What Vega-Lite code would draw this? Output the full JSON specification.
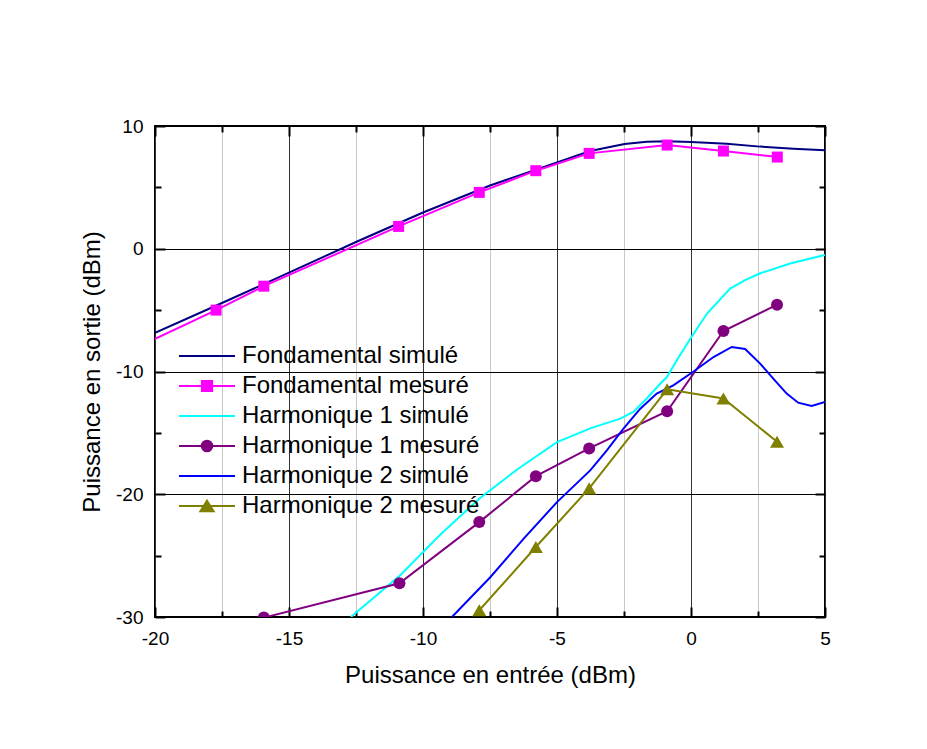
{
  "$schema": "https://vega.github.io/schema/vega-lite/v6.json",
  "autosize": {"type": "none"},
  "padding": {"left": 155, "top": 126, "right": 102, "bottom": 132},
  "width": 670,
  "height": 491,
  "background": "white",
  "config": {
    "font": "Liberation Sans",
    "view": {"stroke": "black", "strokeWidth": 2},
    "axis": {"labelFont": "Liberation Sans", "titleFont": "Liberation Sans", "labelColor": "black", "titleColor": "black", "domain": false, "labelFontSize": 19, "titleFontSize": 24, "titleFontWeight": "normal", "labelFlush": false, "labelOverlap": false}
  },
  "data": {
    "values": [
      {"s": "Fondamental simulé", "x": -20, "y": -6.86},
      {"s": "Fondamental simulé", "x": -17.5, "y": -4.42},
      {"s": "Fondamental simulé", "x": -15, "y": -1.95},
      {"s": "Fondamental simulé", "x": -12.5, "y": 0.55},
      {"s": "Fondamental simulé", "x": -10, "y": 2.95},
      {"s": "Fondamental simulé", "x": -7.5, "y": 5.15},
      {"s": "Fondamental simulé", "x": -5, "y": 7.04},
      {"s": "Fondamental simulé", "x": -3.76, "y": 7.96},
      {"s": "Fondamental simulé", "x": -2.48, "y": 8.53},
      {"s": "Fondamental simulé", "x": -1.65, "y": 8.72},
      {"s": "Fondamental simulé", "x": -0.9, "y": 8.75},
      {"s": "Fondamental simulé", "x": 0, "y": 8.69},
      {"s": "Fondamental simulé", "x": 1.33, "y": 8.56},
      {"s": "Fondamental simulé", "x": 2.58, "y": 8.32},
      {"s": "Fondamental simulé", "x": 3.82, "y": 8.15},
      {"s": "Fondamental simulé", "x": 5, "y": 8.02},

      {"s": "Fondamental mesuré", "x": -21.7, "y": -9.1},
      {"s": "Fondamental mesuré", "x": -17.72, "y": -5.0},
      {"s": "Fondamental mesuré", "x": -15.94, "y": -3.05},
      {"s": "Fondamental mesuré", "x": -10.91, "y": 1.82},
      {"s": "Fondamental mesuré", "x": -7.9, "y": 4.59},
      {"s": "Fondamental mesuré", "x": -5.79, "y": 6.36},
      {"s": "Fondamental mesuré", "x": -3.8, "y": 7.77},
      {"s": "Fondamental mesuré", "x": -0.89, "y": 8.45},
      {"s": "Fondamental mesuré", "x": 1.21, "y": 7.96},
      {"s": "Fondamental mesuré", "x": 3.22, "y": 7.47},

      {"s": "Harmonique 1 simulé", "x": -12.69, "y": -30},
      {"s": "Harmonique 1 simulé", "x": -10.85, "y": -26.6},
      {"s": "Harmonique 1 simulé", "x": -9.36, "y": -23.3},
      {"s": "Harmonique 1 simulé", "x": -7.87, "y": -20.3},
      {"s": "Harmonique 1 simulé", "x": -6.5, "y": -18.0},
      {"s": "Harmonique 1 simulé", "x": -5.0, "y": -15.75},
      {"s": "Harmonique 1 simulé", "x": -3.76, "y": -14.63},
      {"s": "Harmonique 1 simulé", "x": -2.64, "y": -13.84},
      {"s": "Harmonique 1 simulé", "x": -2.15, "y": -13.3},
      {"s": "Harmonique 1 simulé", "x": -1.65, "y": -12.2},
      {"s": "Harmonique 1 simulé", "x": -1.15, "y": -11.0},
      {"s": "Harmonique 1 simulé", "x": -0.9, "y": -10.45},
      {"s": "Harmonique 1 simulé", "x": -0.45, "y": -8.8},
      {"s": "Harmonique 1 simulé", "x": 0, "y": -7.25},
      {"s": "Harmonique 1 simulé", "x": 0.6, "y": -5.28},
      {"s": "Harmonique 1 simulé", "x": 1.46, "y": -3.24},
      {"s": "Harmonique 1 simulé", "x": 2.02, "y": -2.56},
      {"s": "Harmonique 1 simulé", "x": 2.58, "y": -2.0},
      {"s": "Harmonique 1 simulé", "x": 3.7, "y": -1.2},
      {"s": "Harmonique 1 simulé", "x": 5, "y": -0.5},

      {"s": "Harmonique 1 mesuré", "x": -15.94, "y": -30.05},
      {"s": "Harmonique 1 mesuré", "x": -10.88, "y": -27.25},
      {"s": "Harmonique 1 mesuré", "x": -7.9, "y": -22.27},
      {"s": "Harmonique 1 mesuré", "x": -5.79, "y": -18.53},
      {"s": "Harmonique 1 mesuré", "x": -3.8, "y": -16.27},
      {"s": "Harmonique 1 mesuré", "x": -0.89, "y": -13.24},
      {"s": "Harmonique 1 mesuré", "x": 1.21, "y": -6.7},
      {"s": "Harmonique 1 mesuré", "x": 3.21, "y": -4.56},

      {"s": "Harmonique 2 simulé", "x": -8.92, "y": -30},
      {"s": "Harmonique 2 simulé", "x": -7.49, "y": -26.76},
      {"s": "Harmonique 2 simulé", "x": -6.25, "y": -23.63},
      {"s": "Harmonique 2 simulé", "x": -5.0, "y": -20.64},
      {"s": "Harmonique 2 simulé", "x": -3.76, "y": -18.06},
      {"s": "Harmonique 2 simulé", "x": -3.14, "y": -16.43},
      {"s": "Harmonique 2 simulé", "x": -2.52, "y": -14.66},
      {"s": "Harmonique 2 simulé", "x": -1.9, "y": -13.05},
      {"s": "Harmonique 2 simulé", "x": -1.28, "y": -11.8},
      {"s": "Harmonique 2 simulé", "x": -0.66, "y": -11.13},
      {"s": "Harmonique 2 simulé", "x": 0.07, "y": -10.04},
      {"s": "Harmonique 2 simulé", "x": 0.84, "y": -8.82},
      {"s": "Harmonique 2 simulé", "x": 1.52, "y": -8.0},
      {"s": "Harmonique 2 simulé", "x": 2.02, "y": -8.16},
      {"s": "Harmonique 2 simulé", "x": 2.58, "y": -9.36},
      {"s": "Harmonique 2 simulé", "x": 3.07, "y": -10.58},
      {"s": "Harmonique 2 simulé", "x": 3.57, "y": -11.8},
      {"s": "Harmonique 2 simulé", "x": 4.0, "y": -12.54},
      {"s": "Harmonique 2 simulé", "x": 4.5, "y": -12.81},
      {"s": "Harmonique 2 simulé", "x": 5, "y": -12.49},

      {"s": "Harmonique 2 mesuré", "x": -7.9, "y": -29.45},
      {"s": "Harmonique 2 mesuré", "x": -5.79, "y": -24.3},
      {"s": "Harmonique 2 mesuré", "x": -3.8, "y": -19.52},
      {"s": "Harmonique 2 mesuré", "x": -0.89, "y": -11.45},
      {"s": "Harmonique 2 mesuré", "x": 1.21, "y": -12.2},
      {"s": "Harmonique 2 mesuré", "x": 3.21, "y": -15.72}
    ]
  },
  "resolve": {"axis": {"x": "independent", "y": "independent"}},
  "layer": [
    {
      "transform": [{"filter": "datum.s === 'Fondamental simulé'"}],
      "mark": {"type": "line", "strokeWidth": 2, "clip": true},
      "encoding": {
        "x": {"field": "x", "type": "quantitative", "scale": {"domain": [-20, 5], "nice": false, "zero": false},
          "axis": {"orient": "bottom", "values": [-20, -15, -10, -5, 0, 5], "tickSize": -10, "tickWidth": 2, "tickColor": "black", "grid": true, "gridColor": "#333333", "gridWidth": 1, "labelPadding": 22, "labelExpr": "'' + datum.value", "title": "Puissance en entrée (dBm)", "titleX": 335, "titleY": 65, "titleBaseline": "alphabetic", "titleAlign": "center", "titleAngle": 0}},
        "y": {"field": "y", "type": "quantitative", "scale": {"domain": [-30, 10], "nice": false, "zero": false},
          "axis": {"orient": "left", "values": [-30, -20, -10, 0, 10], "tickSize": -10, "tickWidth": 2, "tickColor": "black", "grid": true, "gridColor": "black", "gridWidth": 1, "labelPadding": 22, "labelExpr": "'' + datum.value", "title": "Puissance en sortie (dBm)", "titleX": -56, "titleY": 245.5, "titleBaseline": "alphabetic", "titleAlign": "center", "titleAngle": 270}},
        "color": {"field": "s", "type": "nominal",
          "scale": {"domain": ["Fondamental simulé", "Fondamental mesuré", "Harmonique 1 simulé", "Harmonique 1 mesuré", "Harmonique 2 simulé", "Harmonique 2 mesuré"], "range": ["#000080", "#FF00FF", "#00FFFF", "#800080", "#0000FF", "#808000"]},
          "legend": {"title": null, "orient": "none", "legendX": 40, "legendY": 218, "padding": 0, "labelFont": "Liberation Sans", "labelFontSize": 24, "labelColor": "black", "labelOffset": 23, "labelLimit": 500, "symbolSize": 144, "symbolStrokeWidth": 2, "rowPadding": 6,
            "encode": {"symbols": {"update": {
              "shape": {"signal": "datum.value === 'Fondamental mesuré' ? 'M-4.67,0H4.67M-0.85,-0.85H0.85V0.85H-0.85Z' : datum.value === 'Harmonique 1 mesuré' ? 'M-4.67,0H4.67M-0.88,0A0.88,0.88,0,1,0,0.88,0A0.88,0.88,0,1,0,-0.88,0Z' : datum.value === 'Harmonique 2 mesuré' ? 'M-4.67,0H4.67M0,-0.88L1.1,0.88L-1.1,0.88Z' : 'M-4.67,0H4.67'"},
              "fill": {"signal": "scale('color', datum.value)"},
              "stroke": {"signal": "scale('color', datum.value)"},
              "strokeWidth": {"value": 2},
              "size": {"value": 144},
              "opacity": {"value": 1},
              "fillOpacity": {"value": 1},
              "strokeOpacity": {"value": 1}
            }}}}
        }
      }
    },
    {
      "transform": [{"filter": "datum.s === 'Fondamental mesuré'"}],
      "mark": {"type": "line", "strokeWidth": 2, "clip": true},
      "encoding": {
        "x": {"field": "x", "type": "quantitative",
          "axis": {"orient": "bottom", "values": [-17.5, -12.5, -7.5, -2.5, 2.5], "tickSize": -6, "tickWidth": 2, "tickColor": "black", "grid": true, "gridColor": "#c8c8c8", "gridWidth": 1, "labels": false, "title": null}},
        "y": {"field": "y", "type": "quantitative",
          "axis": {"orient": "left", "values": [-25, -15, -5, 5], "tickSize": -6, "tickWidth": 2, "tickColor": "black", "labels": false, "title": null}},
        "color": {"field": "s", "type": "nominal"}
      }
    },
    {
      "transform": [{"filter": "datum.s === 'Harmonique 1 simulé'"}],
      "mark": {"type": "line", "strokeWidth": 2, "clip": true},
      "encoding": {
        "x": {"field": "x", "type": "quantitative",
          "axis": {"orient": "top", "values": [-20, -15, -10, -5, 0, 5], "tickSize": -10, "tickWidth": 2, "tickColor": "black", "labels": false, "title": null}},
        "y": {"field": "y", "type": "quantitative",
          "axis": {"orient": "right", "values": [-30, -20, -10, 0, 10], "tickSize": -10, "tickWidth": 2, "tickColor": "black", "labels": false, "title": null}},
        "color": {"field": "s", "type": "nominal"}
      }
    },
    {
      "transform": [{"filter": "datum.s === 'Harmonique 1 mesuré'"}],
      "mark": {"type": "line", "strokeWidth": 2, "clip": true},
      "encoding": {
        "x": {"field": "x", "type": "quantitative",
          "axis": {"orient": "top", "values": [-17.5, -12.5, -7.5, -2.5, 2.5], "tickSize": -6, "tickWidth": 2, "tickColor": "black", "labels": false, "title": null}},
        "y": {"field": "y", "type": "quantitative",
          "axis": {"orient": "right", "values": [-25, -15, -5, 5], "tickSize": -6, "tickWidth": 2, "tickColor": "black", "labels": false, "title": null}},
        "color": {"field": "s", "type": "nominal"}
      }
    },
    {
      "transform": [{"filter": "datum.s === 'Harmonique 2 simulé'"}],
      "mark": {"type": "line", "strokeWidth": 2, "clip": true},
      "encoding": {
        "x": {"field": "x", "type": "quantitative", "axis": null},
        "y": {"field": "y", "type": "quantitative", "axis": null},
        "color": {"field": "s", "type": "nominal"}
      }
    },
    {
      "transform": [{"filter": "datum.s === 'Harmonique 2 mesuré'"}],
      "mark": {"type": "line", "strokeWidth": 2, "clip": true},
      "encoding": {
        "x": {"field": "x", "type": "quantitative", "axis": null},
        "y": {"field": "y", "type": "quantitative", "axis": null},
        "color": {"field": "s", "type": "nominal"}
      }
    },
    {
      "transform": [{"filter": "datum.s === 'Fondamental mesuré'"}],
      "mark": {"type": "point", "shape": "square", "filled": true, "size": 121, "opacity": 1, "clip": true},
      "encoding": {
        "x": {"field": "x", "type": "quantitative", "axis": null},
        "y": {"field": "y", "type": "quantitative", "axis": null},
        "color": {"field": "s", "type": "nominal"}
      }
    },
    {
      "transform": [{"filter": "datum.s === 'Harmonique 1 mesuré'"}],
      "mark": {"type": "point", "shape": "circle", "filled": true, "size": 144, "opacity": 1, "clip": true},
      "encoding": {
        "x": {"field": "x", "type": "quantitative", "axis": null},
        "y": {"field": "y", "type": "quantitative", "axis": null},
        "color": {"field": "s", "type": "nominal"}
      }
    },
    {
      "transform": [{"filter": "datum.s === 'Harmonique 2 mesuré'"}],
      "mark": {"type": "point", "shape": "triangle-up", "filled": true, "size": 196, "opacity": 1, "clip": true},
      "encoding": {
        "x": {"field": "x", "type": "quantitative", "axis": null},
        "y": {"field": "y", "type": "quantitative", "axis": null},
        "color": {"field": "s", "type": "nominal"}
      }
    }
  ]
}
